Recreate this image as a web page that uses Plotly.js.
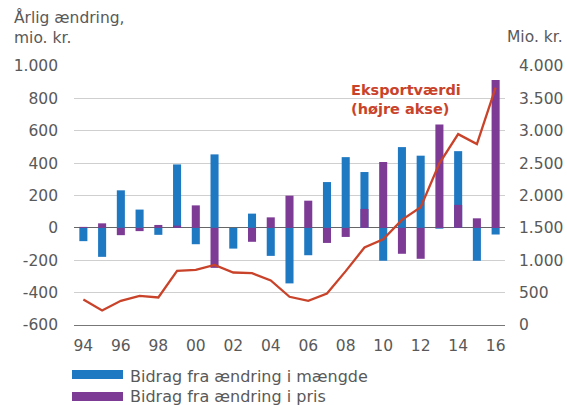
<!DOCTYPE html>
<html><head><meta charset="utf-8">
<script src="https://cdn.plot.ly/plotly-3.0.1.min.js"></script>
<style>html,body{margin:0;padding:0;background:#fff}</style>
</head><body><div id="chart" style="width:567px;height:405px"></div>
<script>
const years = [1994,1995,1996,1997,1998,1999,2000,2001,2002,2003,2004,2005,2006,2007,2008,2009,2010,2011,2012,2013,2014,2015,2016];
const maengde = [-82,-179,232,113,-43,392,-101,454,-128,88,-173,-343,-169,283,437,345,-203,499,446,-5,474,-203,-41];
const pris = [6,28,-45,-20,18,14,139,-247,0,-86,65,199,168,-93,-56,117,407,-160,-191,639,142,59,914];
const eksport = [395,225,374,451,425,837,852,929,811,801,688,436,374,487,832,1196,1325,1623,1818,2496,2948,2794,3667];
const leftTicks = [-600,-400,-200,0,200,400,600,800,1000];
const leftTickText = ['-600','-400','-200','0','200','400','600','800','1.000'];
const rightTicks = [0,500,1000,1500,2000,2500,3000,3500,4000];
const rightTickText = ['0','500','1.000','1.500','2.000','2.500','3.000','3.500','4.000'];
const xLabelYears = [1994,1996,1998,2000,2002,2004,2006,2008,2010,2012,2014,2016];
const xLabelText = ['94','96','98','00','02','04','06','08','10','12','14','16'];
const seriesNames = ['Bidrag fra ændring i mængde','Bidrag fra ændring i pris'];

const blue = '#1f78c2', purple = '#7d3b96', red = '#c9432a', grey = '#595959';
const font = 'DejaVu Sans, sans-serif';
const fs = 15.5;

const traces = [
  {type:'bar', x:years, y:maengde, name:seriesNames[0], marker:{color:blue}, width:0.43, showlegend:false, yaxis:'y'},
  {type:'bar', x:years, y:pris, name:seriesNames[1], marker:{color:purple}, width:0.43, showlegend:false, yaxis:'y'},
  {type:'scatter', mode:'lines', x:years, y:eksport, name:'Eksportværdi', line:{color:red, width:2.3}, yaxis:'y2', showlegend:false}
];

const H = 259; // plot height in px
function py(px){ return 1 - (px - 66)/H; }

const layout = {
  width:567, height:405,
  margin:{l:74, r:62, t:66, b:80},
  paper_bgcolor:'#fff', plot_bgcolor:'#fff',
  barmode:'overlay',
  font:{family:font, size:fs, color:grey},
  xaxis:{range:[1993.5,2016.5], tickmode:'array', tickvals:xLabelYears, ticktext:xLabelText,
         ticks:'', showgrid:false, zeroline:false, showline:true, linecolor:'#777', linewidth:1.2,
         tickfont:{size:fs, color:grey}, ticklabelstandoff:6},
  xaxis2:{overlaying:'x', range:[1993.5,2016.5], tickmode:'linear', tick0:1993.5, dtick:1,
          ticks:'inside', ticklen:5, tickcolor:'#777', showticklabels:false, showgrid:false, zeroline:false, side:'bottom', anchor:'y'},
  yaxis:{range:[-600,1000], tickmode:'array', tickvals:leftTicks, ticktext:leftTickText,
         showgrid:true, gridcolor:'#cfcfcf', gridwidth:1, zeroline:true, zerolinecolor:'#666', zerolinewidth:1.2,
         ticks:'', tickfont:{size:fs, color:grey}, ticklabelstandoff:15},
  yaxis2:{overlaying:'y', side:'right', range:[0,4000], tickmode:'array', tickvals:rightTicks, ticktext:rightTickText,
          showgrid:false, zeroline:false, ticks:'', tickfont:{size:fs, color:grey}, ticklabelstandoff:13},
  annotations:[
    {xref:'paper', yref:'paper', x:(12-74)/431, y:py(6), xanchor:'left', yanchor:'top', align:'left', showarrow:false,
     text:'Årlig ændring,<br>mio. kr.', font:{size:fs, color:grey}},
    {xref:'paper', yref:'paper', x:(565-74)/431, y:py(37), xanchor:'right', yanchor:'middle', showarrow:false,
     text:'Mio. kr.', font:{size:fs, color:grey}},
    {xref:'x', yref:'paper', x:2011.2, y:py(80), xanchor:'center', yanchor:'top', align:'left', showarrow:false,
     text:'<b>Eksportværdi<br>(højre akse)</b>', font:{size:14.5, color:red}},
    {xref:'paper', yref:'paper', x:(128-74)/431, y:py(376), xanchor:'left', yanchor:'middle', showarrow:false,
     text:seriesNames[0], font:{size:16, color:grey}},
    {xref:'paper', yref:'paper', x:(128-74)/431, y:py(396), xanchor:'left', yanchor:'middle', showarrow:false,
     text:seriesNames[1], font:{size:16, color:grey}}
  ],
  shapes:[
    {type:'rect', xref:'paper', yref:'paper', x0:(72-74)/431, x1:(123-74)/431, y0:py(379), y1:py(370), fillcolor:blue, line:{width:0}},
    {type:'rect', xref:'paper', yref:'paper', x0:(72-74)/431, x1:(123-74)/431, y0:py(401), y1:py(392), fillcolor:purple, line:{width:0}}
  ]
};
Plotly.newPlot('chart', traces, layout, {displayModeBar:false, staticPlot:true});
</script></body></html>
